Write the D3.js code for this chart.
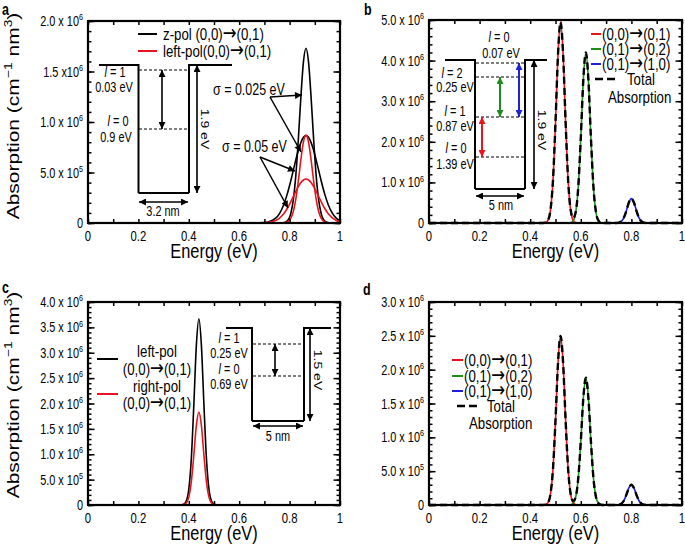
<!DOCTYPE html>
<html><head><meta charset="utf-8">
<script src="https://cdn.jsdelivr.net/npm/d3@7"></script>
<style>
body{margin:0;background:#fff}
text{font-family:"Liberation Sans",Arial,Helvetica,sans-serif;fill:#000}
</style>
</head><body>
<svg id="chart" width="685" height="547"></svg>
<script>
// ---------------- DATA (values in units of 10^6 cm^-1 nm^3) ----------------
// Panel a
const aZpolNarrow = [[0,0],[0.6,0],[0.7,0],[0.745,0],[0.775,0.003],[0.79,0.019],[0.805,0.097],[0.815,0.234],[0.825,0.481],[0.835,0.843],[0.845,1.256],[0.855,1.597],[0.865,1.73],[0.875,1.597],[0.885,1.256],[0.895,0.843],[0.905,0.481],[0.915,0.234],[0.925,0.097],[0.94,0.019],[0.955,0.003],[0.985,0],[1.0,0]];
const aZpolWide = [[0,0],[0.6,0],[0.7,0.004],[0.745,0.048],[0.775,0.171],[0.79,0.281],[0.805,0.421],[0.815,0.525],[0.825,0.628],[0.835,0.722],[0.845,0.798],[0.855,0.848],[0.865,0.865],[0.875,0.848],[0.885,0.798],[0.895,0.722],[0.905,0.628],[0.915,0.525],[0.925,0.421],[0.94,0.281],[0.955,0.171],[0.985,0.048],[1.0,0.022]];
const aLeftNarrow = [[0,0],[0.6,0],[0.7,0],[0.745,0],[0.775,0.001],[0.79,0.010],[0.805,0.049],[0.815,0.117],[0.825,0.242],[0.835,0.424],[0.845,0.632],[0.855,0.803],[0.865,0.87],[0.875,0.803],[0.885,0.632],[0.895,0.424],[0.905,0.242],[0.915,0.117],[0.925,0.049],[0.94,0.010],[0.955,0.001],[0.985,0],[1.0,0]];
const aLeftWide = [[0,0],[0.6,0],[0.7,0.002],[0.745,0.024],[0.775,0.086],[0.79,0.141],[0.805,0.212],[0.815,0.264],[0.825,0.316],[0.835,0.363],[0.845,0.402],[0.855,0.426],[0.865,0.435],[0.875,0.426],[0.885,0.402],[0.895,0.363],[0.905,0.316],[0.915,0.264],[0.925,0.212],[0.94,0.141],[0.955,0.086],[0.985,0.024],[1.0,0.011]];
// Panel b
const bRed = [[0,0],[0.44,0],[0.45,0.001],[0.46,0.010],[0.47,0.065],[0.48,0.311],[0.49,1.044],[0.50,2.475],[0.51,4.163],[0.52,4.95],[0.53,4.163],[0.54,2.475],[0.55,1.044],[0.56,0.311],[0.57,0.065],[0.58,0.010],[0.59,0.001],[0.60,0],[1.0,0]];
const bGreen = [[0,0],[0.54,0],[0.55,0.001],[0.56,0.008],[0.57,0.055],[0.58,0.264],[0.59,0.886],[0.60,2.1],[0.61,3.532],[0.62,4.2],[0.63,3.532],[0.64,2.1],[0.65,0.886],[0.66,0.264],[0.67,0.055],[0.68,0.008],[0.69,0.001],[0.70,0],[1.0,0]];
const bBlue = [[0,0],[0.73,0],[0.74,0.001],[0.75,0.008],[0.76,0.038],[0.77,0.127],[0.78,0.300],[0.79,0.505],[0.80,0.6],[0.81,0.505],[0.82,0.300],[0.83,0.127],[0.84,0.038],[0.85,0.008],[0.86,0.001],[0.87,0],[1.0,0]];
const bTotal = [[0,0],[0.44,0],[0.45,0.001],[0.46,0.010],[0.47,0.065],[0.48,0.311],[0.49,1.044],[0.50,2.475],[0.51,4.163],[0.52,4.95],[0.53,4.163],[0.54,2.475],[0.55,1.045],[0.56,0.319],[0.57,0.120],[0.58,0.274],[0.59,0.887],[0.60,2.1],[0.61,3.532],[0.62,4.2],[0.63,3.532],[0.64,2.1],[0.65,0.886],[0.66,0.264],[0.67,0.055],[0.68,0.008],[0.69,0.001],[0.70,0],[0.73,0],[0.74,0.001],[0.75,0.008],[0.76,0.038],[0.77,0.127],[0.78,0.300],[0.79,0.505],[0.80,0.6],[0.81,0.505],[0.82,0.300],[0.83,0.127],[0.84,0.038],[0.85,0.008],[0.86,0.001],[0.87,0],[1.0,0]];
// Panel c
const cLeftPol = [[0,0],[0.36,0],[0.37,0.002],[0.38,0.014],[0.39,0.077],[0.40,0.311],[0.41,0.914],[0.42,1.978],[0.43,3.145],[0.44,3.67],[0.45,3.145],[0.46,1.978],[0.47,0.914],[0.48,0.311],[0.49,0.077],[0.50,0.014],[0.51,0.002],[0.52,0],[1.0,0]];
const cRightPol = [[0,0],[0.36,0],[0.37,0.001],[0.38,0.007],[0.39,0.039],[0.40,0.155],[0.41,0.456],[0.42,0.986],[0.43,1.568],[0.44,1.83],[0.45,1.568],[0.46,0.986],[0.47,0.456],[0.48,0.155],[0.49,0.039],[0.50,0.007],[0.51,0.001],[0.52,0],[1.0,0]];
// Panel d
const dRed = [[0,0],[0.45,0],[0.46,0.005],[0.47,0.033],[0.48,0.157],[0.49,0.528],[0.50,1.25],[0.51,2.103],[0.52,2.5],[0.53,2.103],[0.54,1.25],[0.55,0.528],[0.56,0.157],[0.57,0.033],[0.58,0.005],[0.59,0],[1.0,0]];
const dGreen = [[0,0],[0.55,0],[0.56,0.004],[0.57,0.025],[0.58,0.118],[0.59,0.397],[0.60,0.94],[0.61,1.581],[0.62,1.88],[0.63,1.581],[0.64,0.94],[0.65,0.397],[0.66,0.118],[0.67,0.025],[0.68,0.004],[0.69,0],[1.0,0]];
const dBlue = [[0,0],[0.73,0],[0.74,0.001],[0.75,0.004],[0.76,0.019],[0.77,0.063],[0.78,0.15],[0.79,0.252],[0.80,0.3],[0.81,0.252],[0.82,0.15],[0.83,0.063],[0.84,0.019],[0.85,0.004],[0.86,0.001],[0.87,0],[1.0,0]];
const dTotal = [[0,0],[0.45,0],[0.46,0.005],[0.47,0.033],[0.48,0.157],[0.49,0.528],[0.50,1.25],[0.51,2.103],[0.52,2.5],[0.53,2.103],[0.54,1.25],[0.55,0.528],[0.56,0.161],[0.57,0.058],[0.58,0.123],[0.59,0.397],[0.60,0.94],[0.61,1.581],[0.62,1.88],[0.63,1.581],[0.64,0.94],[0.65,0.397],[0.66,0.118],[0.67,0.025],[0.68,0.004],[0.69,0],[0.73,0],[0.74,0.001],[0.75,0.004],[0.76,0.019],[0.77,0.063],[0.78,0.15],[0.79,0.252],[0.80,0.3],[0.81,0.252],[0.82,0.15],[0.83,0.063],[0.84,0.019],[0.85,0.004],[0.86,0.001],[0.87,0],[1.0,0]];

// Ticks
const xTickVals = [0, 0.2, 0.4, 0.6, 0.8, 1];
const xTickLabels = ["0", "0.2", "0.4", "0.6", "0.8", "1"];
const yTicksA = [0, 0.5, 1, 1.5, 2];
const yLabelsA = [["0"], ["5.0 x 10","5"], ["1.0 x 10","6"], ["1.5 x10","6"], ["2.0 x 10","6"]];
const yTicksB = [0, 1, 2, 3, 4, 5];
const yLabelsB = [["0"], ["1.0 x 10","6"], ["2.0 x 10","6"], ["3.0 x 10","6"], ["4.0 x 10","6"], ["5.0 x 10","6"]];
const yTicksC = [0, 0.5, 1, 1.5, 2, 2.5, 3, 3.5, 4];
const yLabelsC = [["0"], ["5.0 x 10","5"], ["1.0 x 10","6"], ["1.5 x 10","6"], ["2.0 x 10","6"], ["2.5 x 10","6"], ["3.0 x 10","6"], ["3.5 x 10","6"], ["4.0 x 10","6"]];
const yTicksD = [0, 0.5, 1, 1.5, 2, 2.5, 3];
const yLabelsD = [["0"], ["5.0 x 10","5"], ["1.0 x 10","6"], ["1.5 x 10","6"], ["2.0 x 10","6"], ["2.5 x 10","6"], ["3.0 x 10","6"]];

// ---------------- DRAWING ----------------
const SX = 0.78;
const ARROW = "\u2192";
const svg = d3.select("#chart");
const defs = svg.append("defs");
const colors = {black:"#000", red:"#e8141b", green:"#1a8f1a", blue:"#1f1fe0"};
Object.entries(colors).forEach(([k,c]) => {
  defs.append("marker").attr("id","ah-"+k).attr("viewBox","0 0 10 10")
    .attr("refX",10).attr("refY",5).attr("markerWidth",8).attr("markerHeight",7)
    .attr("markerUnits","userSpaceOnUse").attr("orient","auto-start-reverse")
    .append("path").attr("d","M0,0 L10,5 L0,10 z").attr("fill",c);
});

function txt(g, x, y, parts, o = {}) {
  const size = o.size || 14;
  const tr = o.rotate ? `translate(${x},${y}) rotate(${o.rotate}) scale(1,${SX})` : `translate(${x},${y}) scale(${SX},1)`;
  const t = g.append("text").attr("transform", tr).attr("font-size", size)
    .attr("text-anchor", o.anchor || "start");
  if (o.weight) t.attr("font-weight", o.weight);
  let shift = 0;
  parts.forEach(p => {
    const s = typeof p === "string" ? {t:p} : p;
    const ts = t.append("tspan").text(s.t);
    let want = s.sup ? -size*0.42 : 0;
    if (want !== shift) { ts.attr("dy", want - shift); shift = want; }
    if (s.sup) ts.attr("font-size", size*0.66);
    if (s.it) ts.attr("font-style", "italic");
    if (s.arrow) ts.attr("font-family", "'DejaVu Sans'").attr("font-size", size*1.25);
  });
  return t;
}
function trans(a, b) { return [a, {t:ARROW, arrow:true}, b]; }

function seg(g, x1, y1, x2, y2, o = {}) {
  const l = g.append("line").attr("x1",x1).attr("y1",y1).attr("x2",x2).attr("y2",y2)
    .attr("stroke", colors[o.color||"black"]).attr("stroke-width", o.w || 1.6);
  if (o.dash) l.attr("stroke-dasharray", o.dash);
  if (o.end) l.attr("marker-end", `url(#ah-${o.color||"black"})`);
  if (o.start) l.attr("marker-start", `url(#ah-${o.color||"black"})`);
  return l;
}

function makePanel(cfg) {
  const g = svg.append("g").attr("transform", `translate(${cfg.left},${cfg.top})`);
  const x = d3.scaleLinear().domain([0,1]).range([0,cfg.w]);
  const y = d3.scaleLinear().domain([0,cfg.ymax]).range([cfg.h,0]);
  const line = d3.line().x(d => x(d[0])).y(d => y(d[1])).curve(d3.curveMonotoneX);
  cfg.series.forEach(s => {
    const p = g.append("path").datum(s.data).attr("d", line).attr("fill","none")
      .attr("stroke", colors[s.color]).attr("stroke-width", s.w || 1.6)
      .attr("stroke-linejoin","round");
    if (s.dash) p.attr("stroke-dasharray", s.dash);
  });
  const xMinor = d3.range(0, 1.0001, 0.1);
  const yMinor = d3.range(0, cfg.ymax + 1e-9, cfg.ymin);
  const ax = [
    [d3.axisBottom(x).tickValues(xMinor).tickSize(-4), `translate(0,${cfg.h})`],
    [d3.axisTop(x).tickValues(xMinor).tickSize(-4), null],
    [d3.axisLeft(y).tickValues(yMinor).tickSize(-3.5), null],
    [d3.axisLeft(y).tickValues(cfg.yticks).tickSize(-6.5), null],
    [d3.axisRight(y).tickValues(yMinor).tickSize(-3.5), `translate(${cfg.w},0)`],
    [d3.axisRight(y).tickValues(cfg.yticks).tickSize(-6.5), `translate(${cfg.w},0)`]
  ];
  ax.forEach(([a, tr]) => {
    const ag = g.append("g").call(a.tickFormat("").tickSizeOuter(0));
    if (tr) ag.attr("transform", tr);
    ag.select(".domain").remove();
    ag.selectAll("line").attr("stroke-width", 1.5);
  });
  g.append("rect").attr("x",0).attr("y",0).attr("width",cfg.w).attr("height",cfg.h)
    .attr("fill","none").attr("stroke","#000").attr("stroke-width",2.2);
  xTickVals.forEach((v,i) => txt(g, x(v), cfg.h + 18, [xTickLabels[i]], {anchor:"middle", size:14.5}));
  cfg.yticks.forEach((v,i) => {
    const lab = cfg.ylabels[i];
    const parts = lab.length > 1 ? [lab[0], {t:lab[1], sup:true}] : [lab[0]];
    txt(g, -5, y(v) + 5, parts, {anchor:"end", size:14});
  });
  txt(g, cfg.w/2, cfg.h + 35, ["Energy (eV)"], {anchor:"middle", size:21});
  if (cfg.ytitle) {
    txt(g, cfg.ytitleX, cfg.ytitleY, ["Absorption (cm", {t:"\u22121", sup:true}, " nm", {t:"3", sup:true}, ")"],
        {anchor:"middle", size:21, rotate:-90});
  }
  txt(svg, cfg.letter[1], cfg.letter[2], [cfg.letter[0]], {size:16, weight:"bold"});
  return {g, x, y};
}

// ---- Panel a ----
const pa = makePanel({left:88, top:21, w:252, h:202, ymax:2, ymin:0.1, yticks:yTicksA, ylabels:yLabelsA,
  ytitle:true, ytitleX:-69, ytitleY:95, letter:["a",2,15],
  series:[{data:aZpolWide,color:"black"},{data:aZpolNarrow,color:"black"},{data:aLeftNarrow,color:"red"},{data:aLeftWide,color:"red"}]});
{
  const g = pa.g;
  seg(g,50,13,69,13,{w:2}); txt(g,75,18.5,["z-pol ", ...trans("(0,0)","(0,1)")],{size:17});
  seg(g,50,30,69,30,{w:2,color:"red"}); txt(g,75,35.5,["left-pol", ...trans("(0,0)","(0,1)")],{size:17});
  seg(g,11,44,51,44,{w:2}); seg(g,50.5,43,50.5,172,{w:2}); seg(g,50.5,172,101,172,{w:2});
  seg(g,101,172,101,43,{w:2}); seg(g,100,44,144,44,{w:2});
  seg(g,51,49,100,49,{w:1.2,dash:"3,2"}); seg(g,51,108,100,108,{w:1.2,dash:"3,2"});
  seg(g,74,49,74,108,{w:1.6,start:true,end:true});
  seg(g,109,44,109,172,{w:1.6,start:true,end:true});
  txt(g,113,108,["1.9 eV"],{size:14,rotate:90,anchor:"middle"});
  seg(g,51,181,100,181,{w:1.6,start:true,end:true});
  txt(g,75,195,["3.2 nm"],{size:14,anchor:"middle"});
  txt(g,27,56,[{t:"l",it:true}," = 1"],{size:14,anchor:"middle"});
  txt(g,26,71,["0.03 eV"],{size:14,anchor:"middle"});
  txt(g,30,105,[{t:"l",it:true}," = 0"],{size:14,anchor:"middle"});
  txt(g,28,121,["0.9 eV"],{size:14,anchor:"middle"});
  txt(g,125,74,["\u03c3  = 0.025 eV"],{size:16});
  seg(g,182,76,214,74,{w:1.5,end:true}); seg(g,182,76,213,131,{w:1.5,end:true});
  txt(g,134,131,["\u03c3  = 0.05 eV"],{size:16});
  seg(g,172,136,207,150,{w:1.5,end:true}); seg(g,172,136,200,187,{w:1.5,end:true});
}

// ---- Panel b ----
const pb = makePanel({left:429, top:20, w:253, h:203, ymax:5, ymin:0.2, yticks:yTicksB, ylabels:yLabelsB,
  ytitle:false, letter:["b",364,15],
  series:[{data:bRed,color:"red"},{data:bGreen,color:"green"},{data:bBlue,color:"blue"},{data:bTotal,color:"black",w:2.4,dash:"7,4"}]});
{
  const g = pb.g;
  seg(g,16,40,47,40,{w:2}); seg(g,46,39,46,169,{w:2}); seg(g,46,169,96,169,{w:2});
  seg(g,96,169,96,39,{w:2}); seg(g,95,40,118,40,{w:2});
  [43,57,97,137].forEach(yy => seg(g,47,yy,95,yy,{w:1.2,dash:"3,2"}));
  seg(g,53,97,53,137,{w:2,color:"red",start:true,end:true});
  seg(g,71,57,71,97,{w:2,color:"green",start:true,end:true});
  seg(g,90,43,90,97,{w:2,color:"blue",start:true,end:true});
  seg(g,105,40,105,169,{w:1.6,start:true,end:true});
  txt(g,109,110,["1.9 eV"],{size:14,rotate:90,anchor:"middle"});
  seg(g,47,176,95,176,{w:1.6,start:true,end:true});
  txt(g,72,190,["5 nm"],{size:14,anchor:"middle"});
  txt(g,70,22,[{t:"l",it:true}," = 0"],{size:14,anchor:"middle"});
  txt(g,72,38,["0.07 eV"],{size:14,anchor:"middle"});
  txt(g,23,58,[{t:"l",it:true}," = 2"],{size:14,anchor:"middle"});
  txt(g,26,72,["0.25 eV"],{size:14,anchor:"middle"});
  txt(g,26,96,[{t:"l",it:true}," = 1"],{size:14,anchor:"middle"});
  txt(g,26,111,["0.87 eV"],{size:14,anchor:"middle"});
  txt(g,27,133,[{t:"l",it:true}," = 0"],{size:14,anchor:"middle"});
  txt(g,26,149,["1.39 eV"],{size:14,anchor:"middle"});
  [["red",14,"(0,0)","(0,1)"],["green",29,"(0,1)","(0,2)"],["blue",44,"(0,1)","(1,0)"]].forEach(([c,yy,a,b]) => {
    seg(g,162,yy,172,yy,{w:2,color:c}); txt(g,173,yy+6,trans(a,b),{size:17});
  });
  seg(g,166,59,190,59,{w:2.6,dash:"8,4"}); txt(g,198,65,["Total"],{size:17});
  txt(g,179,83,["Absorption"],{size:17});
}

// ---- Panel c ----
const pc = makePanel({left:88, top:302, w:252, h:203, ymax:4, ymin:0.1, yticks:yTicksC, ylabels:yLabelsC,
  ytitle:true, ytitleX:-69, ytitleY:93, letter:["c",2,293],
  series:[{data:cLeftPol,color:"black"},{data:cRightPol,color:"red"}]});
{
  const g = pc.g;
  seg(g,9,57,30,57,{w:2}); txt(g,69,55,["left-pol"],{size:17,anchor:"middle"});
  txt(g,69,73,trans("(0,0)","(0,1)"),{size:17,anchor:"middle"});
  seg(g,9,92,30,92,{w:2,color:"red"}); txt(g,69,90,["right-pol"],{size:17,anchor:"middle"});
  txt(g,69,107,trans("(0,0)","(0,1)"),{size:17,anchor:"middle"});
  seg(g,138,26,165,26,{w:2}); seg(g,164,25,164,119,{w:2}); seg(g,164,119,216,119,{w:2});
  seg(g,216,119,216,25,{w:2}); seg(g,215,26,243,26,{w:2});
  seg(g,165,42,215,42,{w:1.2,dash:"3,2"}); seg(g,165,74,215,74,{w:1.2,dash:"3,2"});
  seg(g,187,42,187,74,{w:1.6,start:true,end:true});
  seg(g,222,26,222,119,{w:1.6,start:true,end:true});
  txt(g,226,68,["1.5 eV"],{size:14,rotate:90,anchor:"middle"});
  seg(g,165,124,215,124,{w:1.6,start:true,end:true});
  txt(g,190,139,["5 nm"],{size:14,anchor:"middle"});
  txt(g,141,41,[{t:"l",it:true}," = 1"],{size:14,anchor:"middle"});
  txt(g,141,56,["0.25 eV"],{size:14,anchor:"middle"});
  txt(g,141,72,[{t:"l",it:true}," = 0"],{size:14,anchor:"middle"});
  txt(g,141,87,["0.69 eV"],{size:14,anchor:"middle"});
}

// ---- Panel d ----
const pd = makePanel({left:429, top:302, w:253, h:203, ymax:3, ymin:0.1, yticks:yTicksD, ylabels:yLabelsD,
  ytitle:false, letter:["d",363,295],
  series:[{data:dRed,color:"red"},{data:dGreen,color:"green"},{data:dBlue,color:"blue"},{data:dTotal,color:"black",w:2.4,dash:"7,4"}]});
{
  const g = pd.g;
  [["red",58,"(0,0)","(0,1)"],["green",74,"(0,1)","(0,2)"],["blue",89,"(0,1)","(1,0)"]].forEach(([c,yy,a,b]) => {
    seg(g,23,yy,34,yy,{w:2,color:c}); txt(g,35,yy+6,trans(a,b),{size:17});
  });
  seg(g,28,104,51,104,{w:2.6,dash:"8,4"}); txt(g,58,110,["Total"],{size:17});
  txt(g,40,127,["Absorption"],{size:17});
}
</script>
</body></html>
